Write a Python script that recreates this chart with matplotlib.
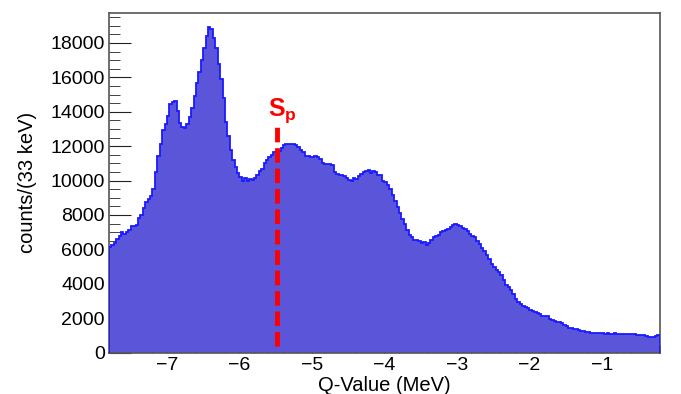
import numpy as np
import matplotlib
matplotlib.use("Agg")
import matplotlib.pyplot as plt
from matplotlib.ticker import MultipleLocator

plt.rcParams['font.family'] = ['Liberation Sans', 'DejaVu Sans']
plt.rcParams['mathtext.fontset'] = 'custom'
plt.rcParams['mathtext.rm'] = 'Liberation Sans'
plt.rcParams['mathtext.bf'] = 'Liberation Sans:bold'

# histogram range (MeV) and counts per 33 keV bin
q_min, q_max = -7.8, -0.2
counts = [
    6150, 6250, 6400, 6600, 6750, 7000, 6900, 7000, 7150, 7350,
    7350, 7400, 7800, 8000, 8400, 8750, 8950, 9100, 9500, 10500,
    11400, 12100, 12950, 13300, 13750, 14450, 14550, 14600, 14050, 13350,
    13100, 13050, 13300, 13700, 14200, 14900, 15700, 16300, 17000, 17700,
    18400, 18900, 18800, 18300, 17700, 16800, 15900, 14800, 13400, 12600,
    11800, 11200, 10800, 10450, 10200, 9950, 10150, 9950, 10100, 10050,
    10150, 10300, 10550, 10650, 11000, 11200, 11350, 11500, 11650, 11400,
    11700, 11900, 12050, 12150, 12100, 12150, 12100, 12050, 11950, 11800,
    11650, 11450, 11400, 11350, 11350, 11400, 11350, 11250, 11050, 10950,
    10950, 10950, 10900, 10500, 10400, 10350, 10300, 10250, 10150, 10050,
    10000, 10150, 10100, 10250, 10400, 10500, 10550, 10600, 10450, 10550,
    10500, 10300, 10300, 10000, 9900, 9750, 9500, 9150, 8800, 8450,
    8100, 7750, 7450, 7150, 6850, 6700, 6550, 6520, 6480, 6380,
    6450, 6250, 6400, 6550, 6700, 6750, 6850, 7000, 7080, 7150,
    7200, 7300, 7400, 7450, 7400, 7380, 7250, 7200, 7050, 6900,
    6800, 6700, 6500, 6300, 6100, 5900, 5650, 5420, 5150, 4950,
    4800, 4680, 4500, 4250, 3950, 3800, 3650, 3420, 3100, 2950,
    2830, 2730, 2650, 2580, 2500, 2440, 2380, 2300, 2220, 2100,
    2120, 2150, 1950, 1900, 1850, 1800, 1760, 1700, 1620, 1520,
    1460, 1420, 1380, 1350, 1310, 1280, 1250, 1210, 1180, 1170,
    1150, 1160, 1140, 1120, 1130, 1100, 1120, 1110, 1080, 1120,
    1100, 1060, 1080, 1100, 1070, 1060, 1080, 1070, 1050, 1040,
    1020, 1000, 960, 930, 920, 930, 940, 1000,
]

# proton separation energy marker
sp_q = -5.48
sp_y = (400, 13300)
sp_label = r'$\mathbf{S_p}$'

edges = np.linspace(q_min, q_max, len(counts) + 1)

fig = plt.figure(figsize=(6.81, 3.94), dpi=100)
ax = fig.add_axes([0.160, 0.105, 0.809, 0.862])

ax.stairs(counts, edges, fill=True, color='#5a55d9', zorder=2)
ax.stairs(counts, edges, color='#1a1aff', lw=1.3, zorder=3)

ax.plot([sp_q, sp_q], sp_y, color='#ff0000', lw=3.5, dashes=(3, 1.2), zorder=4)
ax.text(sp_q - 0.13, sp_y[1] - 50, sp_label, color='#ff0000', fontsize=18,
        ha='left', va='bottom', zorder=5)

ax.set_xlim(q_min, q_max)
ax.set_ylim(0, 19740)

ax.xaxis.set_major_locator(MultipleLocator(1))
ax.xaxis.set_minor_locator(MultipleLocator(0.2))
ax.yaxis.set_major_locator(MultipleLocator(2000))
ax.yaxis.set_minor_locator(MultipleLocator(500))

ax.tick_params(which='both', direction='in', top=False, right=False,
               labelsize=14, color='#222222')
ax.tick_params(axis='y', which='major', length=16, pad=3)
ax.tick_params(axis='y', which='minor', length=8)
ax.tick_params(axis='x', which='major', length=11, pad=3)
ax.tick_params(axis='x', which='minor', length=6)

for s in ax.spines.values():
    s.set_color('#555555')
    s.set_linewidth(1.2)

ax.set_xlabel('Q-Value (MeV)', fontsize=14.5)
ax.set_ylabel('counts/(33 keV)', fontsize=14.5)
ax.xaxis.set_label_coords(0.5, -0.068)
ax.yaxis.set_label_coords(-0.13, 0.5)

fig.savefig('out.png', dpi=100)
